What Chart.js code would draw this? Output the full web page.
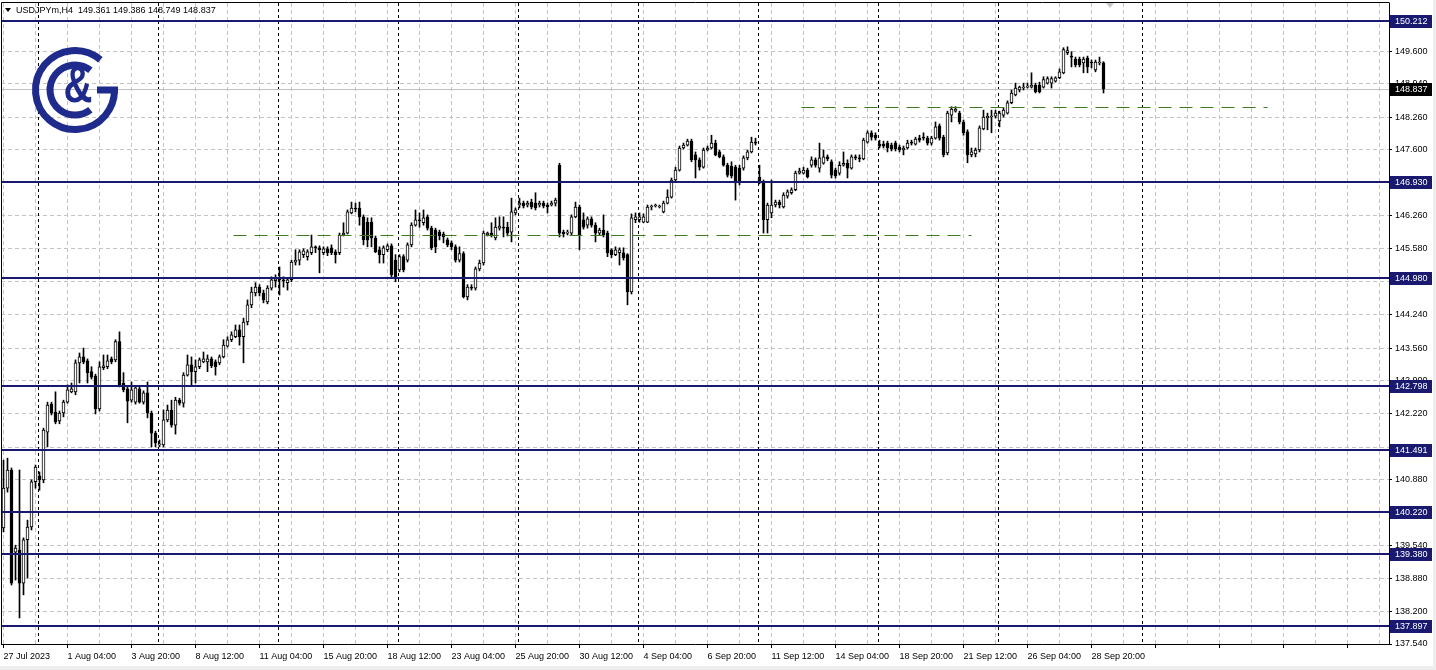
<!DOCTYPE html>
<html>
<head>
<meta charset="utf-8">
<script src="https://cdn.jsdelivr.net/npm/chart.js@4.4.0/dist/chart.umd.min.js"></script>
<style>
  html, body { margin: 0; padding: 0; background: #fff; }
  #wrap { width: 1436px; height: 670px; position: relative; }
</style>
</head>
<body>
<div id="wrap"><canvas id="chart"></canvas></div>
<script>
// USDJPYm H4, one bar per 4 hours starting 27 Jul 2023 12:00
const title = 'USDJPYm,H4  149.361 149.386 148.749 148.837';
const timeLabels = ['27 Jul 2023', '1 Aug 04:00', '3 Aug 20:00', '8 Aug 12:00', '11 Aug 04:00', '15 Aug 20:00',
  '18 Aug 12:00', '23 Aug 04:00', '25 Aug 20:00', '30 Aug 12:00', '4 Sep 04:00', '6 Sep 20:00',
  '11 Sep 12:00', '14 Sep 04:00', '18 Sep 20:00', '21 Sep 12:00', '26 Sep 04:00', '28 Sep 20:00'];
const labelStep = 16;
const priceTicks = [149.600, 148.940, 148.260, 147.600, 146.930, 146.260, 145.580, 144.920, 144.240, 143.560,
  142.900, 142.220, 141.540, 140.880, 140.220, 139.540, 138.880, 138.200, 137.540];
const levels = [150.212, 146.930, 144.980, 142.798, 141.491, 140.220, 139.380, 137.897];
const lastPrice = 148.837;
const weekStarts = [9, 39, 69, 99, 129, 159, 189, 219, 249, 285];
const dashValues = [148.46, 145.86];
const dashFrom = [199.5, 57.5];
const dashTo = [316, 242];

const opens = [
  139.90,140.71,141.08,139.41,139.45,138.78,139.66,139.92,140.84,140.96,
  140.88,141.85,142.42,142.26,142.08,142.24,142.46,142.67,142.67,143.26,
  143.38,143.30,143.08,142.99,142.32,143.16,143.18,143.34,143.32,143.69,
  142.85,142.73,142.50,142.46,142.73,142.46,142.65,142.24,141.83,141.59,
  141.59,142.10,142.30,141.99,142.50,142.44,143.01,143.22,143.08,143.18,
  143.28,143.28,143.34,143.28,143.26,143.38,143.60,143.73,143.79,143.93,
  143.79,144.09,144.44,144.68,144.80,144.68,144.50,144.78,144.93,144.97,
  144.95,144.89,144.95,145.31,145.35,145.46,145.42,145.50,145.62,145.60,
  145.50,145.58,145.60,145.52,145.50,145.86,145.90,146.31,146.41,146.41,
  146.23,146.12,146.12,145.80,145.56,145.46,145.56,145.64,145.35,145.15,
  145.42,145.35,145.66,146.06,146.17,146.11,146.23,146.00,145.96,145.92,
  145.88,145.76,145.70,145.62,145.35,145.48,144.60,144.80,144.78,145.17,
  145.29,145.86,145.90,145.80,146.00,146.02,146.02,145.92,146.31,146.47,
  146.51,146.47,146.53,146.51,146.47,146.51,146.47,146.47,146.51,147.28,
  145.92,145.90,145.90,146.23,146.43,146.17,146.06,146.19,146.06,145.90,
  145.96,145.90,145.56,145.46,145.50,145.50,145.46,144.70,146.17,146.17,
  146.12,146.12,146.43,146.45,146.43,146.33,146.51,146.63,146.98,147.18,
  147.63,147.69,147.77,147.49,147.39,147.24,147.59,147.63,147.73,147.55,
  147.45,147.28,147.26,147.24,147.22,147.22,147.43,147.55,147.75,147.04,
  146.94,146.17,146.31,146.47,146.53,146.43,146.65,146.72,146.78,147.12,
  147.12,147.18,147.28,147.39,147.22,147.32,147.45,147.35,147.18,147.12,
  147.28,147.32,147.22,147.45,147.43,147.41,147.75,147.94,147.89,147.71,
  147.71,147.73,147.69,147.73,147.65,147.59,147.63,147.75,147.71,147.83,
  147.85,147.83,147.73,147.83,148.08,147.85,147.53,148.30,148.38,148.34,
  148.16,147.96,147.49,147.51,147.59,148.02,148.24,148.26,148.28,148.18,
  148.30,148.34,148.55,148.71,148.81,148.85,148.87,148.87,148.91,148.91,
  148.87,148.95,148.95,148.99,149.06,149.16,149.57,149.50,149.44,149.44,
  149.36,149.46,149.38,149.22,149.36,149.361];
const highs = [
  141.28,141.32,141.12,139.55,141.08,139.70,140.06,140.88,141.18,141.04,
  141.93,142.46,142.46,142.67,142.28,142.50,142.81,142.85,143.32,143.46,
  143.56,143.34,143.18,143.03,143.28,143.42,143.42,143.38,143.73,143.89,
  143.06,142.77,142.87,142.79,142.77,142.69,142.87,142.28,141.87,141.69,
  142.30,142.40,142.50,142.56,142.54,143.06,143.42,143.38,143.32,143.36,
  143.48,143.42,143.38,143.32,143.42,143.73,143.79,143.89,144.03,144.03,
  144.17,144.54,144.80,144.89,144.85,144.74,144.83,145.01,145.05,145.21,
  145.01,144.99,145.35,145.56,145.56,145.58,145.56,145.86,145.64,145.64,
  145.62,145.62,145.66,145.56,145.90,146.11,146.37,146.53,146.51,146.53,
  146.27,146.21,146.21,145.84,145.62,145.64,145.68,145.68,145.46,145.46,
  145.46,145.70,146.11,146.37,146.31,146.37,146.27,146.04,146.00,145.96,
  145.92,145.80,145.74,145.66,145.62,145.52,144.85,144.85,145.21,145.35,
  145.94,145.92,146.11,146.21,146.23,146.23,146.12,146.61,146.41,146.61,
  146.55,146.55,146.59,146.72,146.55,146.55,146.51,146.55,146.61,147.32,
  145.96,145.96,146.27,146.53,146.47,146.31,146.23,146.23,146.11,146.00,
  146.27,145.94,145.58,145.62,145.60,145.60,145.48,146.29,146.31,146.31,
  146.29,146.47,146.47,146.49,146.47,146.55,146.78,147.02,147.24,147.67,
  147.73,147.81,147.81,147.55,147.43,147.63,147.67,147.89,147.79,147.59,
  147.49,147.32,147.35,147.28,147.28,147.47,147.59,147.85,147.83,147.28,
  146.98,146.51,146.98,146.57,146.57,146.72,146.78,146.82,147.16,147.22,
  147.24,147.22,147.45,147.43,147.73,147.59,147.49,147.39,147.22,147.35,
  147.55,147.39,147.49,147.49,147.49,147.83,147.98,147.98,147.94,147.79,
  147.77,147.77,147.73,147.77,147.69,147.67,147.79,147.79,147.85,147.89,
  147.94,147.87,147.87,148.16,148.12,147.89,148.38,148.47,148.47,148.38,
  148.20,148.00,147.63,147.63,148.08,148.40,148.34,148.40,148.40,148.38,
  148.45,148.59,148.81,148.95,148.89,148.95,148.95,149.16,148.95,148.97,
  149.08,149.08,149.08,149.08,149.24,149.67,149.69,149.59,149.48,149.48,
  149.48,149.50,149.42,149.42,149.48,149.386];
const lows = [
  139.82,140.63,138.74,138.84,138.07,138.54,138.88,139.86,140.71,140.67,
  140.82,141.55,142.20,142.02,142.02,142.16,142.44,142.65,142.61,142.85,
  143.24,142.85,142.93,142.22,142.28,143.12,143.14,143.24,143.28,142.77,
  142.67,142.04,142.46,142.42,142.44,142.42,142.14,141.55,141.55,141.55,
  141.55,142.06,141.95,141.81,142.40,142.36,142.99,142.81,142.85,143.14,
  143.26,143.08,143.16,143.01,143.22,143.36,143.58,143.69,143.77,143.62,
  143.26,144.03,144.38,144.62,144.62,144.48,144.46,144.74,144.80,144.64,
  144.80,144.74,144.91,145.25,145.25,145.40,145.35,145.46,145.50,145.09,
  145.46,145.44,145.46,145.29,145.46,145.84,145.88,146.29,146.33,146.06,
  145.66,145.62,145.62,145.50,145.29,145.29,145.52,145.01,144.91,145.11,
  145.11,145.31,145.62,146.04,146.02,146.06,145.96,145.56,145.50,145.76,
  145.70,145.62,145.56,145.31,145.31,144.58,144.54,144.74,144.74,145.13,
  145.25,145.84,145.82,145.76,145.96,145.82,145.84,145.72,146.27,146.41,
  146.41,146.43,146.39,146.37,146.43,146.41,146.31,146.45,146.45,145.82,
  145.82,145.86,145.86,146.21,145.56,145.98,146.00,146.02,145.72,145.86,
  145.82,145.42,145.40,145.44,145.25,145.35,144.44,144.66,146.11,146.12,
  146.11,146.11,146.37,146.43,146.41,146.31,146.49,146.61,146.96,147.16,
  147.61,147.67,147.35,147.02,147.18,147.22,147.57,147.61,147.47,147.43,
  147.26,147.04,147.02,146.57,146.88,147.18,147.39,147.53,147.69,146.90,
  145.90,145.90,146.21,146.43,146.41,146.41,146.61,146.69,146.76,147.10,
  147.10,147.02,147.24,147.24,147.14,147.30,147.37,147.02,147.02,147.08,
  147.26,147.02,147.20,147.39,147.35,147.39,147.73,147.79,147.79,147.63,
  147.63,147.55,147.57,147.57,147.55,147.49,147.61,147.69,147.69,147.75,
  147.79,147.69,147.69,147.81,147.79,147.45,147.49,148.16,148.36,148.12,
  147.89,147.33,147.45,147.45,147.55,148.00,148.00,147.94,148.24,148.06,
  148.26,148.32,148.53,148.69,148.77,148.81,148.85,148.85,148.75,148.75,
  148.85,148.93,148.85,148.97,149.04,149.14,149.53,149.28,149.28,149.28,
  149.16,149.16,149.26,149.18,149.32,148.749];
const closes = [
  140.71,141.08,138.78,139.49,138.78,139.66,139.92,140.84,141.14,140.88,
  141.89,142.40,142.24,142.06,142.24,142.46,142.71,142.73,143.26,143.38,
  143.28,143.06,142.97,142.32,143.18,143.20,143.30,143.28,143.69,142.81,
  142.71,142.48,142.71,142.75,142.46,142.65,142.24,141.83,141.63,141.61,
  142.10,142.30,141.99,142.50,142.44,143.01,143.22,143.08,143.18,143.32,
  143.34,143.34,143.20,143.18,143.38,143.62,143.73,143.83,143.93,143.79,
  144.09,144.44,144.70,144.80,144.68,144.54,144.78,144.95,144.97,144.95,
  144.93,144.95,145.31,145.35,145.52,145.54,145.52,145.62,145.60,145.56,
  145.58,145.50,145.50,145.46,145.86,145.90,146.33,146.41,146.39,146.23,
  145.76,145.76,145.80,145.52,145.46,145.60,145.64,145.05,145.01,145.42,
  145.15,145.66,146.06,146.17,146.15,146.21,146.00,145.60,145.62,145.84,
  145.82,145.66,145.62,145.35,145.48,144.60,144.80,144.78,145.17,145.29,
  145.90,145.90,145.86,146.02,146.04,146.00,145.90,146.33,146.37,146.51,
  146.45,146.51,146.43,146.41,146.51,146.45,146.43,146.51,146.57,145.90,
  145.88,145.92,146.23,146.43,145.86,146.02,146.19,146.06,145.90,145.96,
  145.86,145.50,145.46,145.56,145.56,145.40,144.70,146.21,146.23,146.23,
  146.23,146.43,146.45,146.47,146.45,146.51,146.63,146.98,147.18,147.63,
  147.69,147.77,147.39,147.39,147.24,147.59,147.63,147.73,147.49,147.45,
  147.28,147.08,147.06,146.92,146.92,147.43,147.55,147.75,147.73,146.92,
  146.17,146.47,146.47,146.53,146.47,146.67,146.74,146.78,147.12,147.16,
  147.18,147.04,147.39,147.28,147.43,147.45,147.41,147.08,147.06,147.28,
  147.32,147.22,147.45,147.43,147.41,147.79,147.94,147.85,147.83,147.67,
  147.67,147.63,147.61,147.61,147.59,147.63,147.73,147.73,147.81,147.79,
  147.83,147.73,147.83,148.06,147.83,147.49,148.34,148.42,148.42,148.16,
  147.94,147.49,147.55,147.59,148.04,148.26,148.28,148.28,148.34,148.34,
  148.40,148.55,148.75,148.85,148.87,148.87,148.89,148.91,148.77,148.77,
  149.02,149.04,149.04,149.06,149.18,149.63,149.61,149.48,149.32,149.32,
  149.44,149.28,149.36,149.38,149.38,148.837];

const navy = '#191970';
const font9 = '9px "Liberation Sans"';

function drawLogo(ctx) {
  const cx = 75, cy = 90, blue = '#1e2a8c';
  const rad = d => d * Math.PI / 180;
  ctx.save();
  ctx.strokeStyle = blue;
  ctx.lineWidth = 7;
  ctx.beginPath(); ctx.arc(cx, cy, 39.5, rad(-50), 0, true); ctx.stroke();
  ctx.beginPath(); ctx.moveTo(cx + 22, cy); ctx.lineTo(cx + 43, cy); ctx.stroke();
  ctx.beginPath(); ctx.arc(cx, cy, 25, rad(-52), rad(52), true); ctx.stroke();
  ctx.fillStyle = blue;
  ctx.font = 'bold 40px "Liberation Sans"';
  ctx.textAlign = 'center';
  ctx.textBaseline = 'middle';
  ctx.translate(cx + 3, cy - 2);
  ctx.scale(1, 1.3);
  ctx.fillText('&', 0, 0);
  ctx.restore();
}

const mtPlugin = {
  id: 'mt',
  beforeDraw(chart) {
    const ctx = chart.ctx;
    ctx.save();
    ctx.fillStyle = '#ffffff';
    ctx.fillRect(0, 0, chart.width, chart.height);
    ctx.fillStyle = '#eeeeee';
    ctx.fillRect(0, 666, chart.width, 4);
    ctx.fillRect(1433, 0, 3, chart.height);
    ctx.restore();
  },
  beforeDatasetsDraw(chart) {
    const { ctx, chartArea: a, scales: { x, y } } = chart;
    ctx.save();
    ctx.lineWidth = 1;
    ctx.strokeStyle = '#000';
    ctx.setLineDash([3, 3]);
    weekStarts.forEach(w => {
      const px = Math.round(x.getPixelForValue(w - 0.375)) + 0.5;
      ctx.beginPath(); ctx.moveTo(px, a.top); ctx.lineTo(px, a.bottom); ctx.stroke();
    });
    ctx.setLineDash([]);
    ctx.strokeStyle = '#c0c0c0';
    const py = Math.round(y.getPixelForValue(lastPrice)) + 0.5;
    ctx.beginPath(); ctx.moveTo(a.left, py); ctx.lineTo(a.right, py); ctx.stroke();
    ctx.restore();
    drawLogo(ctx);
  },
  afterDatasetsDraw(chart) {
    const { ctx, chartArea: a, scales: { x, y } } = chart;
    ctx.save();
    // dashed trend levels
    ctx.strokeStyle = '#3b7a1a';
    ctx.lineWidth = 1;
    ctx.setLineDash([13, 8]);
    dashValues.forEach((v, k) => {
      const py = Math.round(y.getPixelForValue(v)) + 0.5;
      ctx.beginPath();
      ctx.moveTo(x.getPixelForValue(dashFrom[k]), py);
      ctx.lineTo(x.getPixelForValue(dashTo[k]), py);
      ctx.stroke();
    });
    ctx.setLineDash([]);
    // support / resistance levels
    ctx.strokeStyle = navy;
    ctx.lineWidth = 2;
    levels.forEach(v => {
      const py = Math.round(y.getPixelForValue(v));
      ctx.beginPath(); ctx.moveTo(a.left, py); ctx.lineTo(a.right, py); ctx.stroke();
    });
    ctx.restore();
  },
  afterDraw(chart) {
    const { ctx, chartArea: a, scales: { y } } = chart;
    ctx.save();
    // frame
    ctx.strokeStyle = '#000';
    ctx.lineWidth = 1;
    ctx.beginPath();
    ctx.moveTo(a.left + 0.5, a.bottom);
    ctx.lineTo(a.left + 0.5, a.top - 0.5);
    ctx.lineTo(a.right + 0.5, a.top - 0.5);
    ctx.stroke();
    // price boxes
    ctx.font = font9;
    ctx.textBaseline = 'middle';
    ctx.textAlign = 'left';
    const box = (v, bg) => {
      const py = Math.round(y.getPixelForValue(v));
      ctx.fillStyle = bg;
      ctx.fillRect(a.right + 1, py - 6, 42, 13);
      ctx.fillStyle = '#fff';
      ctx.fillText(v.toFixed(3), a.right + 6, py + 0.5);
    };
    levels.forEach(v => box(v, navy));
    box(lastPrice, '#000');
    // shift marker
    ctx.fillStyle = '#c8c8c8';
    ctx.beginPath(); ctx.moveTo(1106, 3); ctx.lineTo(1114, 3); ctx.lineTo(1110, 8); ctx.fill();
    // title
    ctx.fillStyle = '#000';
    ctx.beginPath(); ctx.moveTo(5, 8); ctx.lineTo(11, 8); ctx.lineTo(8, 12); ctx.fill();
    ctx.fillText(title, 16, 11);
    ctx.restore();
  }
};

const bodies = opens.map((o, i) => ({ x: i, y: [o, closes[i]] }));
const wicks = lows.map((l, i) => ({ x: i, y: [l, highs[i]] }));
const bodyColors = opens.map((o, i) => closes[i] >= o ? '#ffffff' : '#000000');

const datasets = [
  {
    data: bodies,
    backgroundColor: bodyColors,
    borderColor: '#000',
    borderWidth: 1,
    borderSkipped: false,
    barThickness: 3,
    minBarLength: 1,
    grouped: false,
    order: 1
  },
  {
    data: wicks,
    backgroundColor: '#000',
    borderWidth: 0,
    barThickness: 1,
    grouped: false,
    order: 2
  }
];

Chart.defaults.font.family = '"Liberation Sans"';

new Chart(document.getElementById('chart'), {
  type: 'bar',
  data: { datasets },
  plugins: [mtPlugin],
  options: {
    responsive: true,
    maintainAspectRatio: false,
    devicePixelRatio: 1,
    animation: false,
    events: [],
    layout: { padding: { left: 1, top: 3, right: 0, bottom: 0 } },
    plugins: { legend: { display: false }, tooltip: { enabled: false } },
    scales: {
      x: {
        type: 'linear',
        offset: false,
        min: -0.625,
        max: 346.375,
        afterBuildTicks: s => {
          const t = [];
          for (let v = 0; v <= 344; v += 8) t.push({ value: v });
          s.ticks = t;
        },
        afterFit: s => { s.height = 26; s.paddingLeft = 0; s.paddingRight = 0; },
        grid: {
          offset: false,
          color: '#c4c4c4',
          tickLength: 4,
          tickColor: c => (c.tick && c.tick.value % labelStep === 0) ? '#000' : 'rgba(0,0,0,0)',
          tickBorderDash: []
        },
        border: { color: '#000', dash: [4, 3] },
        ticks: {
          autoSkip: false,
          maxRotation: 0,
          align: 'start',
          padding: 3,
          color: '#000',
          font: { size: 9 },
          callback: v => (v % labelStep === 0 && timeLabels[v / labelStep]) ? timeLabels[v / labelStep] : ''
        }
      },
      y: {
        position: 'right',
        min: 137.540,
        max: 150.580,
        afterBuildTicks: s => { s.ticks = priceTicks.map(v => ({ value: v })); },
        afterFit: s => { s.width = 47; s.paddingTop = 0; s.paddingBottom = 0; },
        grid: { color: '#c4c4c4', tickLength: 3, tickColor: '#000', tickBorderDash: [] },
        border: { color: '#000', dash: [4, 3] },
        ticks: {
          padding: 3,
          color: '#000',
          font: { size: 9 },
          callback: v => Number(v).toFixed(3)
        }
      }
    }
  }
});
</script>
</body>
</html>
